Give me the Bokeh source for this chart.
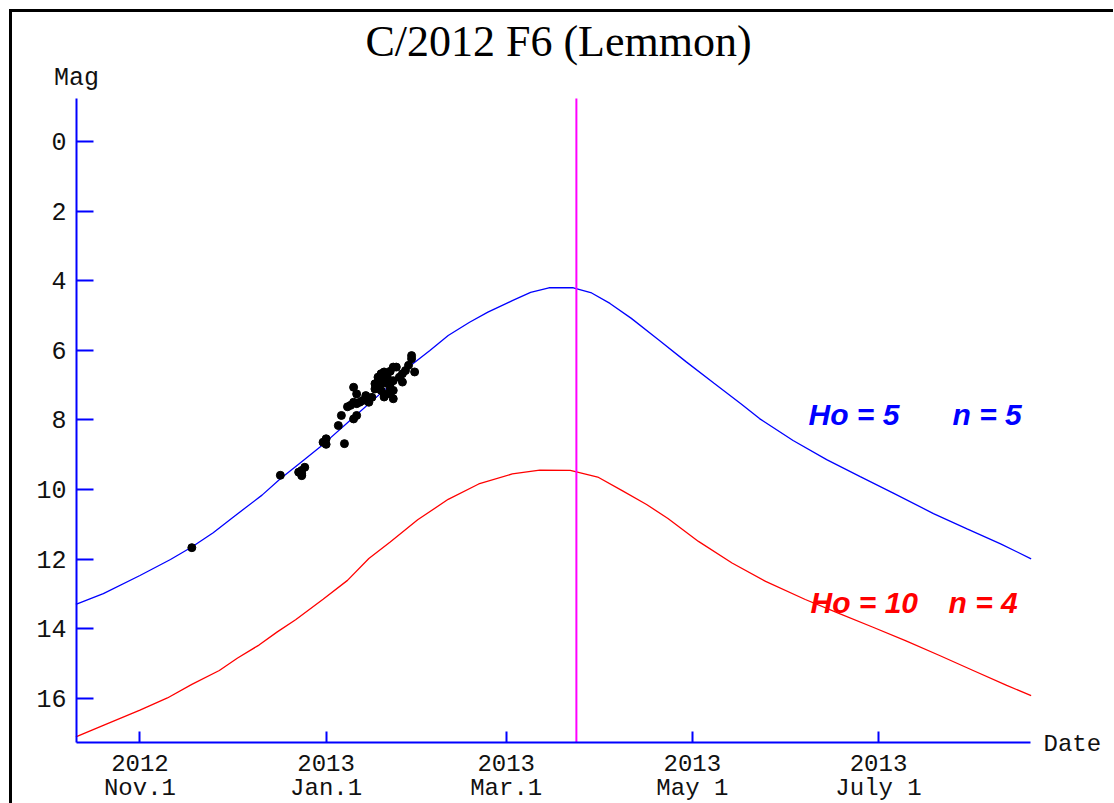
import pandas as pd
from bokeh.plotting import figure
from bokeh.models import Range1d, FixedTicker, Label
from bokeh.embed import file_html
from bokeh.resources import INLINE

# ---------------- data ----------------
ho5_dates = ["2012-10-11", "2012-10-20", "2012-11-01", "2012-11-11", "2012-11-18", "2012-11-25",
             "2012-12-01", "2012-12-11", "2012-12-17", "2012-12-24", "2012-12-30", "2013-01-09",
             "2013-01-21", "2013-01-29", "2013-02-04", "2013-02-10", "2013-02-17", "2013-02-23",
             "2013-03-03", "2013-03-09", "2013-03-15", "2013-03-23", "2013-03-29", "2013-04-04",
             "2013-04-11", "2013-04-20", "2013-04-29", "2013-05-08", "2013-05-17", "2013-05-23",
             "2013-06-03", "2013-06-14", "2013-06-25", "2013-07-06", "2013-07-19", "2013-07-30",
             "2013-08-10", "2013-08-20"]
ho5_mag = [13.30, 12.99, 12.47, 12.01, 11.65, 11.24,
           10.83, 10.16, 9.69, 9.20, 8.78, 8.00,
           7.07, 6.41, 6.00, 5.57, 5.19, 4.90,
           4.57, 4.33, 4.20, 4.20, 4.35, 4.65,
           5.08, 5.70, 6.33, 6.94, 7.54, 7.96,
           8.59, 9.14, 9.63, 10.11, 10.69, 11.13,
           11.56, 11.99]

ho10_dates = ["2012-10-11", "2012-10-20", "2012-11-01", "2012-11-10", "2012-11-18", "2012-11-27",
              "2012-12-03", "2012-12-10", "2012-12-16", "2012-12-22", "2012-12-31", "2013-01-08",
              "2013-01-15", "2013-01-22", "2013-01-31", "2013-02-10", "2013-02-20", "2013-03-03",
              "2013-03-12", "2013-03-22", "2013-03-31", "2013-04-08", "2013-04-16", "2013-04-23",
              "2013-05-03", "2013-05-14", "2013-05-25", "2013-06-07", "2013-06-18", "2013-06-29",
              "2013-07-10", "2013-07-21", "2013-08-01", "2013-08-12", "2013-08-20"]
ho10_mag = [17.11, 16.78, 16.34, 15.99, 15.60, 15.20,
            14.84, 14.47, 14.09, 13.74, 13.15, 12.61,
            11.98, 11.51, 10.87, 10.28, 9.84, 9.55,
            9.44, 9.45, 9.64, 10.03, 10.43, 10.83,
            11.49, 12.11, 12.64, 13.16, 13.56, 13.95,
            14.35, 14.77, 15.20, 15.63, 15.92]

obs_dates = ["2012-11-18", "2012-12-17", "2012-12-23", "2012-12-24", "2012-12-24", "2012-12-25",
             "2012-12-31", "2013-01-01", "2013-01-01", "2013-01-05", "2013-01-06", "2013-01-07",
             "2013-01-09", "2013-01-10", "2013-01-11", "2013-01-10", "2013-01-11", "2013-01-11",
             "2013-01-10", "2013-01-13", "2013-01-12", "2013-01-15", "2013-01-17", "2013-01-17",
             "2013-01-18", "2013-01-19", "2013-01-20", "2013-01-20", "2013-01-19", "2013-01-20",
             "2013-01-20", "2013-01-23", "2013-01-23", "2013-01-24", "2013-01-26", "2013-01-22",
             "2013-01-23", "2013-01-22", "2013-01-22", "2013-01-23", "2013-01-25", "2013-01-26",
             "2013-01-28", "2013-01-29", "2013-01-29", "2013-01-30",
             "2013-01-18", "2013-01-19", "2013-01-21", "2013-01-21", "2013-01-16", "2013-01-14",
             "2013-01-22", "2013-01-27", "2012-12-24", "2013-01-08"]
obs_mag = [11.67, 9.59, 9.50, 9.55, 9.45, 9.36,
           8.64, 8.54, 8.70, 8.16, 7.87, 8.68,
           7.58, 7.49, 7.53, 7.97, 7.87, 7.25,
           7.06, 7.44, 7.49, 7.49, 6.96, 7.11,
           6.77, 6.67, 6.62, 6.77, 7.15, 7.25,
           7.34, 7.39, 6.48, 6.48, 6.67, 6.96,
           7.15, 7.11, 7.25, 6.87, 6.77, 6.91,
           6.43, 6.24, 6.15, 6.62,
           6.88, 6.95, 6.75, 6.95, 7.35, 7.30,
           6.60, 6.58, 9.60, 7.62]

perihelion = "2013-03-24"
tick_dates = ["2012-11-01", "2013-01-01", "2013-03-01", "2013-05-01", "2013-07-01"]
tick_labels = ["2012\nNov.1", "2013\nJan.1", "2013\nMar.1", "2013\nMay 1", "2013\nJuly 1"]
mag_ticks = [0, 2, 4, 6, 8, 10, 12, 14, 16]
x_start, x_end = "2012-10-11 05:00", "2013-08-19 19:00"   # extent of the date axis
y_bottom, y_top = 17.27, -1.24                            # extent of the magnitude axis

title_text = "C/2012 F6 (Lemmon)"


def ms(s):
    return pd.Timestamp(s).value / 1e6


def to_ms(lst):
    return [ms(s) for s in lst]


MONO = "Liberation Mono"
BLUE = "#0000ff"
RED = "#ff0000"
TXT = "#111111"

# ---------------- layout (pixels) ----------------
CW, CH = 1101, 791          # canvas = frame (whole plot area)
AX_L, AX_R = 64, 1018       # date axis extent inside the frame
AX_T, AX_B = 86, 730        # magnitude axis extent inside the frame (from top)

xs, xe = ms(x_start), ms(x_end)
kx = (xe - xs) / (AX_R - AX_L)
fx0, fx1 = xs - AX_L * kx, xe + (CW - AX_R) * kx
ky = (y_bottom - y_top) / (AX_B - AX_T)
fy_top, fy_bot = y_top - AX_T * ky, y_bottom + (CH - AX_B) * ky

p = figure(frame_width=CW, frame_height=CH,
           min_border=0,
           x_range=Range1d(fx0, fx1), y_range=Range1d(fy_bot, fy_top),
           output_backend="svg", toolbar_location=None)
p.styles = {"margin-left": "9px", "margin-top": "9px",
            "border-left": "3px solid black", "border-top": "3px solid black"}

p.grid.visible = False
p.outline_line_color = None
p.background_fill_color = "white"
p.border_fill_color = "white"

for ax in (p.xaxis[0], p.yaxis[0]):
    ax.axis_line_color = BLUE
    ax.axis_line_width = 2
    ax.major_tick_line_color = BLUE
    ax.major_tick_line_width = 2
    ax.major_tick_out = 0
    ax.minor_tick_line_color = None
    ax.major_label_text_font = MONO
    ax.major_label_text_color = TXT

p.yaxis.fixed_location = xs
p.yaxis.bounds = (y_top, y_bottom)
p.yaxis.ticker = FixedTicker(ticks=mag_ticks)
p.yaxis.major_tick_in = 17
p.yaxis.major_label_standoff = 10
p.yaxis.major_label_text_font_size = "25px"

tms = to_ms(tick_dates)
p.xaxis.fixed_location = y_bottom
p.xaxis.bounds = (xs, xe)
p.xaxis.ticker = FixedTicker(ticks=tms)
p.xaxis.major_label_overrides = {t: l for t, l in zip(tms, tick_labels)}
p.xaxis.major_tick_in = 11
p.xaxis.major_label_standoff = 8
p.xaxis.major_label_text_font_size = "24px"
p.xaxis.major_label_text_line_height = 0.92

# curves
p.line(to_ms(ho5_dates), ho5_mag, line_color=BLUE, line_width=1.3)
p.line(to_ms(ho10_dates), ho10_mag, line_color=RED, line_width=1.3)

# perihelion marker
p.segment(x0=[ms(perihelion)], y0=[y_bottom], x1=[ms(perihelion)], y1=[y_top],
          line_color="#ff00ff", line_width=2)

# observations
p.scatter(to_ms(obs_dates), obs_mag, size=8, color="black")

# texts (screen units, relative to the frame's bottom-left corner)
p.add_layout(Label(x=546, y=762, x_units="screen", y_units="screen", text=title_text,
                   text_font="Liberation Serif", text_font_size="44px", text_align="center",
                   text_baseline="middle", text_color="black"))
p.add_layout(Label(x=64, y=725, x_units="screen", y_units="screen", text="Mag",
                   text_font=MONO, text_font_size="25px", text_align="center",
                   text_baseline="middle", text_color=TXT))
p.add_layout(Label(x=1031, y=59, x_units="screen", y_units="screen", text="Date",
                   text_font=MONO, text_font_size="24px", text_align="left",
                   text_baseline="middle", text_color=TXT))

for txt, x, y, col in [("Ho = 5", 796, 389, BLUE), ("n = 5", 940, 389, BLUE),
                       ("Ho = 10", 798, 201, RED), ("n = 4", 936, 201, RED)]:
    p.add_layout(Label(x=x, y=y, x_units="screen", y_units="screen", text=txt,
                       text_font="Liberation Sans", text_font_style="bold italic",
                       text_font_size="30px", text_color=col, text_baseline="alphabetic"))

open("out.html", "w").write(file_html(p, INLINE))
